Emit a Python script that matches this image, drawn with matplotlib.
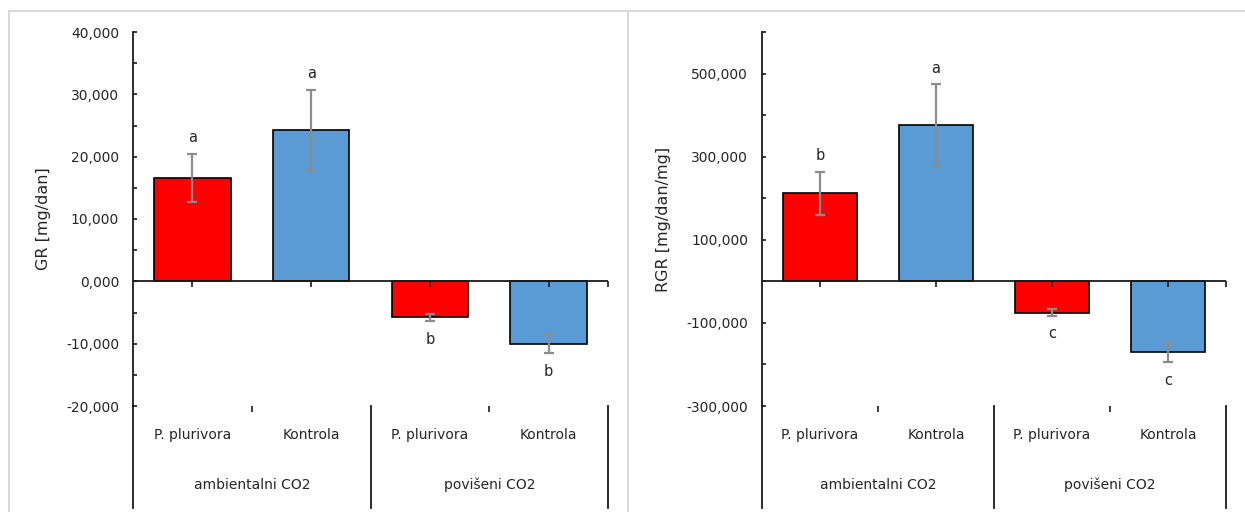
import matplotlib
matplotlib.use("Agg")
import matplotlib.pyplot as plt
from matplotlib.lines import Line2D
from matplotlib.markers import TICKDOWN
from matplotlib.ticker import FuncFormatter, FixedLocator
import matplotlib.transforms as mtransforms

categories = ["P. plurivora", "Kontrola", "P. plurivora", "Kontrola"]
groups = ["ambientalni CO2", "povišeni CO2"]
colors = ["#FF0000", "#5B9BD5", "#FF0000", "#5B9BD5"]

gr_values = [16.6, 24.2, -5.8, -10.0]
gr_err = [3.9, 6.55, 0.6, 1.5]
gr_letters = ["a", "a", "b", "b"]

rgr_values = [212, 376, -75, -170]
rgr_err = [52, 98, 8, 25]
rgr_letters = ["b", "a", "c", "c"]

plt.rcParams['font.family'] = ['DejaVu Sans']
TXT = "#262626"
AX = "#1a1a1a"

W, H = 1245, 512
fig = plt.figure(figsize=(W / 100, H / 100), dpi=100)

# panel borders
bc = "#d9d9d9"
fig.add_artist(Line2D([8.5 / W, 1], [1 - 10.5 / H] * 2, transform=fig.transFigure, color=bc, lw=1.5))
fig.add_artist(Line2D([8.5 / W] * 2, [0, 1 - 10.5 / H], transform=fig.transFigure, color=bc, lw=1.5))
fig.add_artist(Line2D([627.5 / W] * 2, [0, 1 - 10.5 / H], transform=fig.transFigure, color=bc, lw=1.5))

fmt = FuncFormatter(lambda v, p: f"{v:,.3f}".replace(",", " ").replace(".", ",").replace(" ", "."))


def panel(rect_px, values, err, letters, ylim, major, minor, ylabel, ylabel_x):
    x0, x1, y0, y1 = rect_px
    ax = fig.add_axes([x0 / W, 1 - y1 / H, (x1 - x0) / W, (y1 - y0) / H])
    xs = list(range(len(values)))
    ax.bar(xs, values, width=0.645, color=colors, edgecolor="black", linewidth=1.2, zorder=2)
    ax.errorbar(xs, values, yerr=err, fmt="none", ecolor="#8c8c8c", elinewidth=1.6,
                capsize=3.6, capthick=1.6, zorder=3)
    for x, v, e, l in zip(xs, values, err, letters):
        if v >= 0:
            ax.annotate(l, (x, v + e), xytext=(0, 11.5), textcoords="offset points",
                        ha="center", va="center", fontsize=10.5, color=TXT)
        else:
            ax.annotate(l, (x, v - e), xytext=(0, -13), textcoords="offset points",
                        ha="center", va="center", fontsize=10.5, color=TXT)
    ax.set_xlim(-0.5, len(values) - 0.5)
    ax.set_ylim(*ylim)
    ax.yaxis.set_major_locator(FixedLocator(major))
    ax.yaxis.set_minor_locator(FixedLocator(minor))
    ax.yaxis.set_major_formatter(fmt)
    ax.tick_params(axis="y", which="both", direction="in", length=3.2, width=1.2,
                   color=AX, labelsize=10, labelcolor=TXT, pad=10)
    ax.set_xticks([])
    for s in ["top", "right", "bottom"]:
        ax.spines[s].set_visible(False)
    ax.spines["left"].set_linewidth(1.3)
    ax.spines["left"].set_color(AX)
    ax.set_ylabel(ylabel, fontsize=11.5, color=TXT)
    ax.yaxis.set_label_coords(ylabel_x, 0.5)

    # zero line with ticks
    ax.axhline(0, color=AX, lw=1.3, zorder=4)
    tick_x = xs + [len(values) - 0.5]
    ax.plot(tick_x, [0] * len(tick_x), ls="none", marker=TICKDOWN, ms=4, mew=1.2,
            color=AX, zorder=4)

    # multi-level category axis
    trans = mtransforms.blended_transform_factory(ax.transData, ax.transAxes)
    ext = -(508 - y1) / (y1 - y0)
    for xv in [-0.5, 1.5, 3.5]:
        ax.plot([xv, xv], [0, ext], transform=trans, color=AX, lw=1.3, clip_on=False)
    for xv in [0.5, 2.5]:
        ax.plot([xv], [0], transform=trans, ls="none", marker=TICKDOWN, ms=4, mew=1.2,
                color=AX, clip_on=False)
    lab_y = -(435 - y1) / (y1 - y0)
    grp_y = -(485 - y1) / (y1 - y0)
    for x, c in zip(xs, categories):
        ax.text(x, lab_y, c, transform=trans, ha="center", va="center", fontsize=10, color=TXT)
    for g, gname in enumerate(groups):
        ax.text(2 * g + 0.5, grp_y, gname, transform=trans, ha="center", va="center",
                fontsize=10, color=TXT)
    return ax


panel((133, 608, 32, 406), gr_values, gr_err, gr_letters, (-20, 40),
      [-20, -10, 0, 10, 20, 30, 40], [-15, -5, 5, 15, 25, 35],
      "GR [mg/dan]", -82 / 475)
panel((762, 1226, 32, 406), rgr_values, rgr_err, rgr_letters, (-300, 600),
      [-300, -100, 100, 300, 500], [-200, 0, 200, 400, 600],
      "RGR [mg/dan/mg]", -91 / 464)

fig.savefig("out.png", dpi=100)
